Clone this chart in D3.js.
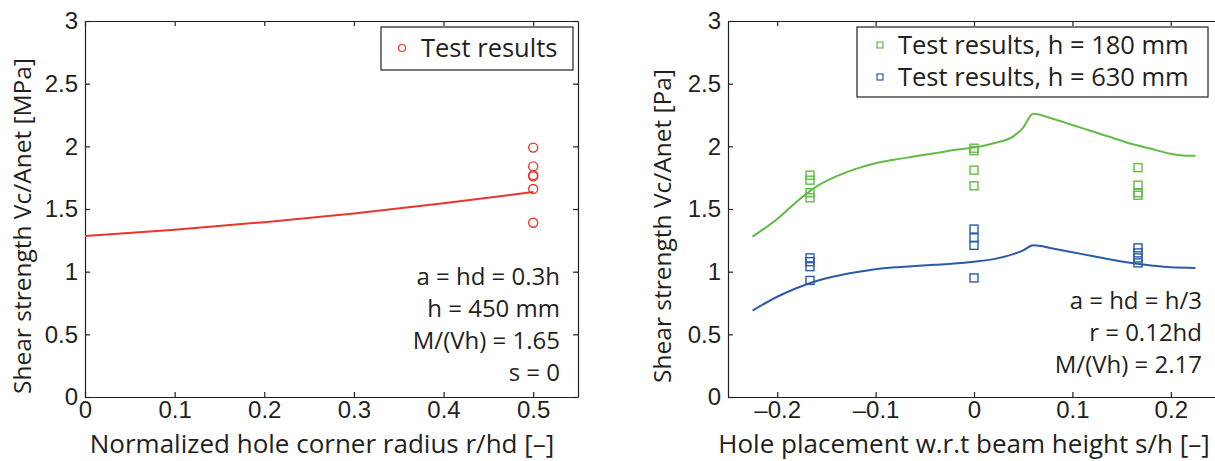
<!DOCTYPE html>
<html lang="en">
<head>
<meta charset="UTF-8">
<title>Shear strength vs hole geometry</title>
<style>
  body { margin: 0; background: #fff; }
  svg { display: block; font-family: "Open Sans", sans-serif; }
  .tick text { fill: #231f20; font-size: 24px; }
  .domain, .tick line { stroke: #231f20; stroke-width: 1.2px; }
  .title { fill: #231f20; font-size: 24.5px; }
  .xtitle { fill: #231f20; font-size: 26px; text-anchor: middle; }
  .legend { fill: #231f20; font-size: 25.5px; }
  .note { fill: #231f20; font-size: 24px; text-anchor: end; }
</style>
</head>
<body>
<div id="chart"></div>
<script src="https://d3js.org/d3.v7.min.js"></script>
<script>
// left panel: corner radius
const radiusLine = [[0, 1.285], [0.1, 1.335], [0.2, 1.395], [0.3, 1.465], [0.4, 1.545], [0.5, 1.635]];
const radiusTests = [[0.5, 1.99], [0.5, 1.84], [0.5, 1.77], [0.5, 1.76], [0.5, 1.66], [0.5, 1.39]];
const radiusTicks = [0, 0.1, 0.2, 0.3, 0.4, 0.5];
const radiusNotes = ["a = hd = 0.3h", "h = 450 mm", "M/(Vh) = 1.65", "s = 0"];

// right panel: hole placement
const line180 = [[-0.225, 1.28], [-0.2, 1.42], [-0.18, 1.56], [-0.16, 1.68], [-0.14, 1.76], [-0.12, 1.82],
  [-0.1, 1.865], [-0.08, 1.895], [-0.06, 1.92], [-0.04, 1.945], [-0.02, 1.97], [0, 1.99], [0.02, 2.025],
  [0.04, 2.08], [0.05, 2.15], [0.06, 2.26], [0.08, 2.22], [0.1, 2.17], [0.12, 2.12], [0.14, 2.07],
  [0.16, 2.02], [0.18, 1.98], [0.2, 1.94], [0.215, 1.925], [0.225, 1.925]];
const line630 = [[-0.225, 0.69], [-0.2, 0.80], [-0.18, 0.87], [-0.16, 0.925], [-0.14, 0.965], [-0.12, 0.995],
  [-0.1, 1.02], [-0.08, 1.035], [-0.06, 1.045], [-0.04, 1.055], [-0.02, 1.065], [0, 1.08], [0.02, 1.10],
  [0.04, 1.14], [0.05, 1.17], [0.06, 1.21], [0.08, 1.185], [0.1, 1.155], [0.12, 1.125], [0.14, 1.095],
  [0.16, 1.07], [0.18, 1.05], [0.2, 1.035], [0.225, 1.03]];
const tests180 = [[-1/6, 1.77], [-1/6, 1.73], [-1/6, 1.63], [-1/6, 1.59],
  [0, 1.985], [0, 1.965], [0, 1.81], [0, 1.685],
  [1/6, 1.83], [1/6, 1.69], [1/6, 1.63], [1/6, 1.61]];
const tests630 = [[-1/6, 1.11], [-1/6, 1.08], [-1/6, 1.04], [-1/6, 0.93],
  [0, 1.34], [0, 1.27], [0, 1.21], [0, 0.95],
  [1/6, 1.19], [1/6, 1.15], [1/6, 1.11], [1/6, 1.07]];
const placeTicks = [-0.2, -0.1, 0, 0.1, 0.2];
const placeLabels = ["\u20130.2", "\u20130.1", "0", "0.1", "0.2"];
const placeNotes = ["a = hd = h/3", "r = 0.12hd", "M/(Vh) = 2.17"];

const yTicks = [0, 0.5, 1, 1.5, 2, 2.5, 3];

const red = "#e8352e", green = "#62bb46", blue = "#2b5aa8";

const svg = d3.select("#chart").append("svg")
  .attr("width", 1215).attr("height", 461);

function panel(x0, x1, xDomain, xTicks, xLabels, xTitle, xTitleX, yTitle, yTitleX) {
  const x = d3.scaleLinear().domain(xDomain).range([x0, x1]);
  const y = d3.scaleLinear().domain([0, 3]).range([397, 21]);
  const g = svg.append("g");

  g.append("g").attr("transform", "translate(0,397)")
    .call(d3.axisBottom(x).tickValues(xTicks).tickSizeInner(-5).tickSizeOuter(0).tickPadding(4)
      .tickFormat((d, i) => xLabels ? xLabels[i] : d3.format("")(d)));
  g.append("g").attr("transform", "translate(0,21)")
    .call(d3.axisTop(x).tickValues(xTicks).tickSizeInner(-5).tickSizeOuter(0).tickFormat(""));
  g.append("g").attr("transform", "translate(" + x0 + ",0)")
    .call(d3.axisLeft(y).tickValues(yTicks).tickSizeInner(-5).tickSizeOuter(0).tickPadding(7)
      .tickFormat(d3.format("")));
  g.append("g").attr("transform", "translate(" + x1 + ",0)")
    .call(d3.axisRight(y).tickValues(yTicks).tickSizeInner(-5).tickSizeOuter(0).tickFormat(""));

  g.append("text").attr("class", "xtitle")
    .attr("x", xTitleX).attr("y", 453).text(xTitle);
  g.append("text").attr("class", "title")
    .attr("transform", "translate(" + yTitleX + ",226) rotate(-90)")
    .attr("text-anchor", "middle").text(yTitle);
  return { g, x, y };
}

// ---- left
const L = panel(85, 578, [0, 0.55], radiusTicks, null,
  "Normalized hole corner radius r/hd [\u2013]", 322, "Shear strength Vc/Anet [MPa]", 31);

L.g.append("path").datum(radiusLine)
  .attr("fill", "none").attr("stroke", red).attr("stroke-width", 2)
  .attr("d", d3.line().x(d => L.x(d[0])).y(d => L.y(d[1])).curve(d3.curveMonotoneX));
L.g.selectAll("circle.pt").data(radiusTests).join("circle").attr("class", "pt")
  .attr("cx", d => L.x(d[0])).attr("cy", d => L.y(d[1])).attr("r", 4.5)
  .attr("fill", "none").attr("stroke", red).attr("stroke-width", 1.4);

L.g.append("rect").attr("x", 381).attr("y", 27).attr("width", 192).attr("height", 43)
  .attr("fill", "#fff").attr("stroke", "#231f20").attr("stroke-width", 1.2);
L.g.append("circle").attr("cx", 402).attr("cy", 48).attr("r", 3.5)
  .attr("fill", "none").attr("stroke", red).attr("stroke-width", 1.2);
L.g.append("text").attr("class", "legend").attr("x", 421).attr("y", 57).text("Test results");

L.g.selectAll("text.note").data(radiusNotes).join("text").attr("class", "note")
  .attr("x", 560).attr("y", (d, i) => 285 + i * 32).text(d => d);

// ---- right
const R = panel(728, 1220, [-0.25, 0.25], placeTicks, placeLabels,
  "Hole placement w.r.t beam height s/h [\u2013]", 964, "Shear strength  Vc/Anet [Pa]", 671);

const curve = d3.line().x(d => R.x(d[0])).y(d => R.y(d[1])).curve(d3.curveMonotoneX);
R.g.append("path").datum(line180).attr("fill", "none").attr("stroke", green).attr("stroke-width", 2).attr("d", curve);
R.g.append("path").datum(line630).attr("fill", "none").attr("stroke", blue).attr("stroke-width", 2).attr("d", curve);

[[tests180, green], [tests630, blue]].forEach(([pts, c]) => {
  R.g.append("g").selectAll("rect").data(pts).join("rect")
    .attr("x", d => R.x(d[0]) - 4).attr("y", d => R.y(d[1]) - 4)
    .attr("width", 8).attr("height", 8)
    .attr("fill", "none").attr("stroke", c).attr("stroke-width", 1.4);
});

R.g.append("rect").attr("x", 857).attr("y", 27).attr("width", 351).attr("height", 70)
  .attr("fill", "#fff").attr("stroke", "#231f20").attr("stroke-width", 1.2);
[["Test results, h = 180 mm", green], ["Test results, h = 630 mm", blue]].forEach(([t, c], i) => {
  R.g.append("rect").attr("x", 877).attr("y", 42 + i * 32).attr("width", 6).attr("height", 6)
    .attr("fill", "none").attr("stroke", c).attr("stroke-width", 1.2);
  R.g.append("text").attr("class", "legend").attr("x", 898).attr("y", 54 + i * 32).text(t);
});

R.g.selectAll("text.note").data(placeNotes).join("text").attr("class", "note")
  .attr("x", 1202).attr("y", (d, i) => 309 + i * 32).text(d => d);
</script>
</body>
</html>
